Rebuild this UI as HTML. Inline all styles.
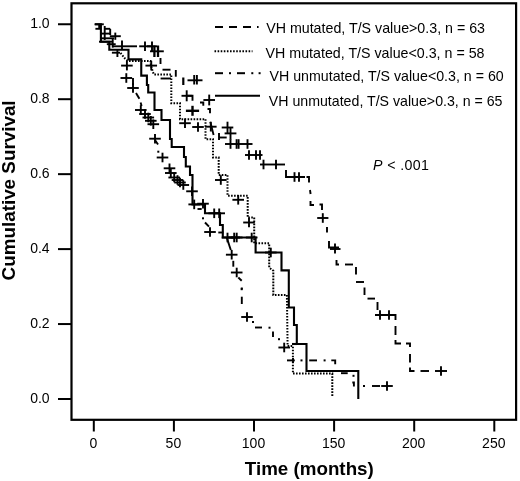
<!DOCTYPE html>
<html><head><meta charset="utf-8"><title>Cumulative Survival</title>
<style>
html,body{margin:0;padding:0;background:#fff;}
svg{display:block;font-family:"Liberation Sans",sans-serif;}
svg{will-change:transform;}
svg line, svg polyline, svg rect{stroke:#000;stroke-linecap:butt;}
</style></head>
<body>
<svg width="520" height="481" viewBox="0 0 520 481">
<rect x="0" y="0" width="520" height="481" fill="#fff" stroke="none" style="stroke:none"/>
<rect x="71.5" y="3.3" width="444.6" height="416.5" fill="none" stroke-width="2.2"/>
<line x1="58.00" y1="399.00" x2="71.50" y2="399.00" stroke-width="2.0" />
<text x="49.6" y="403.10" font-size="14" text-anchor="end" stroke="none" fill="#000">0.0</text>
<line x1="58.00" y1="324.05" x2="71.50" y2="324.05" stroke-width="2.0" />
<text x="49.6" y="328.15" font-size="14" text-anchor="end" stroke="none" fill="#000">0.2</text>
<line x1="58.00" y1="249.10" x2="71.50" y2="249.10" stroke-width="2.0" />
<text x="49.6" y="253.20" font-size="14" text-anchor="end" stroke="none" fill="#000">0.4</text>
<line x1="58.00" y1="174.15" x2="71.50" y2="174.15" stroke-width="2.0" />
<text x="49.6" y="178.25" font-size="14" text-anchor="end" stroke="none" fill="#000">0.6</text>
<line x1="58.00" y1="99.20" x2="71.50" y2="99.20" stroke-width="2.0" />
<text x="49.6" y="103.30" font-size="14" text-anchor="end" stroke="none" fill="#000">0.8</text>
<line x1="58.00" y1="24.25" x2="71.50" y2="24.25" stroke-width="2.0" />
<text x="49.6" y="28.35" font-size="14" text-anchor="end" stroke="none" fill="#000">1.0</text>
<line x1="93.80" y1="419.80" x2="93.80" y2="431.50" stroke-width="2.0" />
<text x="93.3" y="448.0" font-size="14" text-anchor="middle" stroke="none" fill="#000">0</text>
<line x1="173.90" y1="419.80" x2="173.90" y2="431.50" stroke-width="2.0" />
<text x="173.39999999999998" y="448.0" font-size="14" text-anchor="middle" stroke="none" fill="#000">50</text>
<line x1="254.00" y1="419.80" x2="254.00" y2="431.50" stroke-width="2.0" />
<text x="253.5" y="448.0" font-size="14" text-anchor="middle" stroke="none" fill="#000">100</text>
<line x1="334.10" y1="419.80" x2="334.10" y2="431.50" stroke-width="2.0" />
<text x="333.59999999999997" y="448.0" font-size="14" text-anchor="middle" stroke="none" fill="#000">150</text>
<line x1="414.20" y1="419.80" x2="414.20" y2="431.50" stroke-width="2.0" />
<text x="413.7" y="448.0" font-size="14" text-anchor="middle" stroke="none" fill="#000">200</text>
<line x1="494.30" y1="419.80" x2="494.30" y2="431.50" stroke-width="2.0" />
<text x="493.8" y="448.0" font-size="14" text-anchor="middle" stroke="none" fill="#000">250</text>
<text x="309.3" y="475.2" font-size="18.67" font-weight="bold" text-anchor="middle" stroke="none" fill="#000" textLength="129" lengthAdjust="spacingAndGlyphs">Time (months)</text>
<text transform="translate(15.4,190.4) rotate(-90)" font-size="19" font-weight="bold" text-anchor="middle" stroke="none" fill="#000" textLength="180" lengthAdjust="spacingAndGlyphs">Cumulative Survival</text>
<line x1="215.00" y1="27.00" x2="223.00" y2="27.00" stroke-width="2.0" />
<line x1="229.00" y1="27.00" x2="237.00" y2="27.00" stroke-width="2.0" />
<line x1="243.00" y1="27.00" x2="251.00" y2="27.00" stroke-width="2.0" />
<line x1="257.00" y1="27.00" x2="258.60" y2="27.00" stroke-width="2.0" />
<line x1="214.5" y1="51.2" x2="252.5" y2="51.2" stroke-width="2" stroke-dasharray="1.6 1.5"/>
<line x1="215.00" y1="73.20" x2="223.00" y2="73.20" stroke-width="2.0" />
<rect x="229.00" y="72.20" width="2.00" height="2.00" fill="#000" style="stroke:none"/>
<line x1="237.00" y1="73.20" x2="245.00" y2="73.20" stroke-width="2.0" />
<rect x="251.30" y="72.20" width="2.00" height="2.00" fill="#000" style="stroke:none"/>
<rect x="258.60" y="72.20" width="2.00" height="2.00" fill="#000" style="stroke:none"/>
<line x1="215.00" y1="95.80" x2="260.00" y2="95.80" stroke-width="2.0" />
<text x="266.2" y="33.3" font-size="14.2" stroke="none" fill="#000" textLength="218.8" lengthAdjust="spacingAndGlyphs">VH mutated, T/S value&gt;0.3, n = 63</text>
<text x="265.6" y="58.0" font-size="14.2" stroke="none" fill="#000" textLength="218.9" lengthAdjust="spacingAndGlyphs">VH mutated, T/S value&lt;0.3, n = 58</text>
<text x="269.5" y="80.8" font-size="14.2" stroke="none" fill="#000" textLength="234.2" lengthAdjust="spacingAndGlyphs">VH unmutated, T/S value&lt;0.3, n = 60</text>
<text x="268.8" y="106.2" font-size="14.2" stroke="none" fill="#000" textLength="233.7" lengthAdjust="spacingAndGlyphs">VH unmutated, T/S value&gt;0.3, n = 65</text>
<text x="373" y="169.8" font-size="14.2" stroke="none" fill="#000" textLength="55.9" lengthAdjust="spacing"><tspan font-style="italic">P</tspan> &lt; .001</text>
<polyline points="95.00,24.30 100.90,24.30 100.90,41.70 109.30,41.70 109.30,49.70 128.50,49.70 128.50,59.40 141.25,59.40 141.25,75.60 146.90,75.60 146.90,85.00 148.20,85.00 148.20,92.50 154.50,92.50 154.50,110.00 161.50,110.00 161.50,120.00 170.00,120.00 170.00,139.00 171.70,139.00 171.70,147.00 184.00,147.00 184.00,157.00 185.80,157.00 185.80,166.50 190.00,166.50 190.00,175.00 192.50,175.00 192.50,204.50 205.00,204.50 205.00,213.30 220.00,213.30 220.00,225.00 222.80,225.00 222.80,237.50 255.60,237.50 255.60,252.50 281.50,252.50 281.50,270.40 288.80,270.40 288.80,307.50 294.00,307.50 294.00,325.00 296.80,325.00 296.80,344.00 306.50,344.00 306.50,371.00 358.30,371.00 358.30,399.00" fill="none" stroke-width="2.1" stroke-linejoin="miter"/>
<line x1="292.00" y1="344.00" x2="297.00" y2="344.00" stroke-width="2.1" />
<line x1="186.20" y1="191.30" x2="197.80" y2="191.30" stroke-width="1.9" />
<line x1="192.00" y1="186.50" x2="192.00" y2="196.10" stroke-width="1.9" />
<line x1="188.40" y1="204.40" x2="200.00" y2="204.40" stroke-width="1.9" />
<line x1="194.20" y1="199.60" x2="194.20" y2="209.20" stroke-width="1.9" />
<line x1="197.20" y1="203.70" x2="208.80" y2="203.70" stroke-width="1.9" />
<line x1="203.00" y1="198.90" x2="203.00" y2="208.50" stroke-width="1.9" />
<line x1="208.40" y1="213.30" x2="220.00" y2="213.30" stroke-width="1.9" />
<line x1="214.20" y1="208.50" x2="214.20" y2="218.10" stroke-width="1.9" />
<line x1="213.40" y1="213.30" x2="225.00" y2="213.30" stroke-width="1.9" />
<line x1="219.20" y1="208.50" x2="219.20" y2="218.10" stroke-width="1.9" />
<line x1="221.70" y1="237.50" x2="233.30" y2="237.50" stroke-width="1.9" />
<line x1="227.50" y1="232.70" x2="227.50" y2="242.30" stroke-width="1.9" />
<line x1="228.40" y1="237.50" x2="240.00" y2="237.50" stroke-width="1.9" />
<line x1="234.20" y1="232.70" x2="234.20" y2="242.30" stroke-width="1.9" />
<line x1="230.90" y1="237.50" x2="242.50" y2="237.50" stroke-width="1.9" />
<line x1="236.70" y1="232.70" x2="236.70" y2="242.30" stroke-width="1.9" />
<line x1="245.90" y1="237.50" x2="257.50" y2="237.50" stroke-width="1.9" />
<line x1="251.70" y1="232.70" x2="251.70" y2="242.30" stroke-width="1.9" />
<line x1="265.00" y1="252.50" x2="276.60" y2="252.50" stroke-width="1.9" />
<line x1="270.80" y1="247.70" x2="270.80" y2="257.30" stroke-width="1.9" />
<line x1="94.50" y1="24.30" x2="103.80" y2="24.30" stroke-width="1.9" />
<line x1="95.40" y1="28.80" x2="100.90" y2="28.80" stroke-width="1.9" />
<line x1="99.20" y1="24.30" x2="99.20" y2="28.80" stroke-width="1.9" />
<line x1="104.70" y1="26.00" x2="104.70" y2="40.00" stroke-width="1.9" />
<line x1="104.70" y1="28.80" x2="110.20" y2="28.80" stroke-width="1.9" />
<line x1="110.20" y1="28.80" x2="110.20" y2="35.00" stroke-width="1.9" />
<line x1="100.90" y1="33.60" x2="110.20" y2="33.60" stroke-width="1.9" />
<line x1="109.80" y1="36.20" x2="120.80" y2="36.20" stroke-width="1.9" />
<line x1="115.30" y1="32.60" x2="115.30" y2="39.80" stroke-width="1.9" />
<line x1="100.90" y1="38.30" x2="114.00" y2="38.30" stroke-width="1.9" />
<line x1="99.00" y1="41.70" x2="112.30" y2="41.70" stroke-width="1.9" />
<line x1="112.70" y1="38.00" x2="112.70" y2="47.60" stroke-width="1.9" />
<line x1="106.80" y1="44.20" x2="115.70" y2="44.20" stroke-width="1.9" />
<line x1="112.00" y1="46.30" x2="137.00" y2="46.30" stroke-width="1.9" />
<line x1="122.00" y1="40.40" x2="122.00" y2="49.30" stroke-width="1.9" />
<line x1="111.90" y1="52.70" x2="120.00" y2="52.70" stroke-width="1.9" />
<line x1="117.40" y1="49.70" x2="117.40" y2="57.00" stroke-width="1.9" />
<line x1="139.20" y1="46.30" x2="150.80" y2="46.30" stroke-width="1.9" />
<line x1="145.00" y1="41.50" x2="145.00" y2="51.10" stroke-width="1.9" />
<line x1="147.00" y1="46.30" x2="157.00" y2="46.30" stroke-width="1.9" />
<line x1="152.00" y1="41.60" x2="152.00" y2="51.00" stroke-width="1.9" />
<line x1="150.00" y1="51.30" x2="163.80" y2="51.30" stroke-width="1.9" />
<line x1="154.40" y1="45.50" x2="154.40" y2="57.00" stroke-width="2.3" />
<line x1="158.00" y1="45.50" x2="158.00" y2="57.00" stroke-width="2.3" />
<line x1="160.50" y1="58.00" x2="160.50" y2="64.00" stroke-width="1.9" />
<line x1="162.50" y1="69.70" x2="170.50" y2="69.70" stroke-width="1.9" />
<line x1="175.80" y1="70.00" x2="175.80" y2="76.70" stroke-width="1.9" />
<line x1="160.60" y1="78.50" x2="171.00" y2="78.50" stroke-width="1.9" />
<line x1="183.30" y1="77.50" x2="183.30" y2="85.00" stroke-width="2.2" />
<line x1="187.50" y1="80.30" x2="202.50" y2="80.30" stroke-width="1.9" />
<line x1="194.20" y1="75.00" x2="194.20" y2="84.50" stroke-width="1.9" />
<line x1="196.90" y1="75.00" x2="196.90" y2="84.50" stroke-width="1.9" />
<line x1="181.50" y1="95.80" x2="191.90" y2="95.80" stroke-width="1.9" />
<line x1="186.70" y1="90.30" x2="186.70" y2="101.30" stroke-width="1.9" />
<polyline points="186.00,95.80 192.50,95.80 192.50,100.80" fill="none" stroke-width="1.9" />
<polyline points="200.00,102.50 203.30,102.50 203.30,105.80" fill="none" stroke-width="1.9" />
<line x1="203.40" y1="100.00" x2="215.00" y2="100.00" stroke-width="1.9" />
<line x1="209.20" y1="94.60" x2="209.20" y2="105.40" stroke-width="1.9" />
<polyline points="207.50,109.00 210.00,109.00 210.00,113.30" fill="none" stroke-width="1.9" />
<line x1="185.90" y1="110.80" x2="199.10" y2="110.80" stroke-width="2.4" />
<line x1="192.50" y1="105.80" x2="192.50" y2="115.80" stroke-width="2.4" />
<line x1="210.30" y1="121.70" x2="213.60" y2="135.00" stroke-width="1.9" />
<line x1="205.00" y1="126.70" x2="216.60" y2="126.70" stroke-width="1.9" />
<line x1="210.80" y1="121.90" x2="210.80" y2="131.50" stroke-width="1.9" />
<line x1="221.70" y1="127.50" x2="233.30" y2="127.50" stroke-width="1.9" />
<line x1="227.50" y1="121.70" x2="227.50" y2="133.30" stroke-width="1.9" />
<line x1="224.60" y1="133.40" x2="236.40" y2="133.40" stroke-width="1.9" />
<line x1="230.50" y1="127.20" x2="230.50" y2="139.60" stroke-width="1.9" />
<polyline points="219.00,133.00 219.00,140.00" fill="none" stroke-width="1.9" />
<line x1="219.00" y1="137.50" x2="226.70" y2="137.50" stroke-width="1.9" />
<line x1="225.00" y1="144.00" x2="252.50" y2="144.00" stroke-width="1.9" />
<line x1="230.50" y1="139.20" x2="230.50" y2="148.80" stroke-width="1.9" />
<line x1="236.60" y1="139.20" x2="236.60" y2="148.80" stroke-width="1.9" />
<line x1="238.60" y1="139.20" x2="238.60" y2="148.80" stroke-width="1.9" />
<line x1="247.50" y1="139.20" x2="247.50" y2="148.80" stroke-width="1.9" />
<line x1="245.00" y1="155.00" x2="262.50" y2="155.00" stroke-width="1.9" />
<line x1="249.00" y1="150.20" x2="249.00" y2="159.80" stroke-width="1.9" />
<line x1="256.00" y1="150.20" x2="256.00" y2="159.80" stroke-width="1.9" />
<line x1="260.00" y1="150.20" x2="260.00" y2="159.80" stroke-width="1.9" />
<line x1="260.00" y1="164.50" x2="285.00" y2="164.50" stroke-width="1.9" />
<line x1="263.50" y1="159.70" x2="263.50" y2="169.30" stroke-width="1.9" />
<line x1="276.00" y1="159.70" x2="276.00" y2="169.30" stroke-width="1.9" />
<polyline points="286.00,170.00 286.00,177.00 305.00,177.00" fill="none" stroke-width="1.9" />
<line x1="294.50" y1="172.20" x2="294.50" y2="181.80" stroke-width="1.9" />
<line x1="299.00" y1="172.20" x2="299.00" y2="181.80" stroke-width="1.9" />
<polyline points="306.50,177.00 309.00,177.00 309.00,182.50" fill="none" stroke-width="1.9" />
<line x1="310.00" y1="190.00" x2="310.60" y2="194.00" stroke-width="1.9" />
<polyline points="310.50,201.00 310.50,205.00 314.00,205.00" fill="none" stroke-width="1.9" />
<polyline points="319.50,204.50 322.00,204.50 322.00,210.00" fill="none" stroke-width="1.9" />
<line x1="317.20" y1="218.00" x2="328.40" y2="218.00" stroke-width="1.9" />
<line x1="322.80" y1="213.20" x2="322.80" y2="222.80" stroke-width="1.9" />
<line x1="327.00" y1="227.00" x2="327.00" y2="232.50" stroke-width="1.9" />
<polyline points="329.00,241.00 329.00,247.50 339.00,247.50" fill="none" stroke-width="1.9" />
<line x1="335.00" y1="243.50" x2="335.00" y2="253.50" stroke-width="1.9" />
<line x1="330.00" y1="249.00" x2="340.50" y2="249.00" stroke-width="1.9" />
<polyline points="336.50,260.00 336.50,264.50 339.00,264.50" fill="none" stroke-width="1.9" />
<line x1="345.00" y1="264.50" x2="353.00" y2="264.50" stroke-width="1.9" />
<line x1="356.00" y1="267.00" x2="356.00" y2="274.50" stroke-width="1.9" />
<line x1="356.00" y1="282.00" x2="364.00" y2="282.00" stroke-width="1.9" />
<line x1="364.50" y1="287.50" x2="364.50" y2="295.00" stroke-width="1.9" />
<line x1="367.50" y1="298.60" x2="375.00" y2="298.60" stroke-width="1.9" />
<line x1="377.50" y1="302.00" x2="377.50" y2="310.00" stroke-width="1.9" />
<polyline points="375.00,315.00 395.50,315.00 395.50,320.00" fill="none" stroke-width="1.9" />
<line x1="380.00" y1="310.20" x2="380.00" y2="319.80" stroke-width="1.9" />
<line x1="389.00" y1="310.20" x2="389.00" y2="319.80" stroke-width="1.9" />
<line x1="395.50" y1="326.00" x2="395.50" y2="335.00" stroke-width="1.9" />
<polyline points="395.50,340.00 395.50,343.50 401.00,343.50" fill="none" stroke-width="1.9" />
<polyline points="406.00,343.50 410.00,343.50 410.00,347.00" fill="none" stroke-width="1.9" />
<line x1="410.00" y1="354.00" x2="410.00" y2="362.50" stroke-width="1.9" />
<polyline points="410.00,367.50 410.00,371.00 414.50,371.00" fill="none" stroke-width="1.9" />
<line x1="420.50" y1="371.00" x2="429.00" y2="371.00" stroke-width="1.9" />
<line x1="435.00" y1="371.00" x2="447.00" y2="371.00" stroke-width="1.9" />
<line x1="441.00" y1="366.20" x2="441.00" y2="375.80" stroke-width="1.9" />
<polyline points="120.50,53.00 125.00,58.50 128.00,61.00 150.50,61.00 151.00,66.00 153.75,74.40 171.30,74.40 171.30,103.30 180.00,103.30 180.00,119.20 205.50,119.20 205.50,139.20 213.00,139.20 213.00,157.50 218.70,157.50 218.70,175.00 227.50,175.00 227.50,195.70 247.70,195.70 247.70,217.50 254.20,217.50 254.20,243.30 269.20,243.30 269.20,267.50 273.30,270.80 273.30,295.00 286.90,295.00 287.60,346.00 292.90,346.00 292.90,373.60 332.30,373.60 332.30,397.00" fill="none" stroke-width="2.0" stroke-dasharray="1.6 1.4"/>
<line x1="145.45" y1="65.60" x2="157.05" y2="65.60" stroke-width="1.9" />
<line x1="151.25" y1="60.80" x2="151.25" y2="70.40" stroke-width="1.9" />
<line x1="179.20" y1="123.20" x2="190.80" y2="123.20" stroke-width="1.9" />
<line x1="185.00" y1="118.40" x2="185.00" y2="128.00" stroke-width="1.9" />
<line x1="192.20" y1="127.00" x2="203.80" y2="127.00" stroke-width="1.9" />
<line x1="198.00" y1="122.20" x2="198.00" y2="131.80" stroke-width="1.9" />
<line x1="215.00" y1="180.00" x2="226.60" y2="180.00" stroke-width="1.9" />
<line x1="220.80" y1="175.20" x2="220.80" y2="184.80" stroke-width="1.9" />
<line x1="232.40" y1="199.80" x2="244.00" y2="199.80" stroke-width="1.9" />
<line x1="238.20" y1="195.00" x2="238.20" y2="204.60" stroke-width="1.9" />
<line x1="243.20" y1="222.50" x2="254.80" y2="222.50" stroke-width="1.9" />
<line x1="249.00" y1="217.70" x2="249.00" y2="227.30" stroke-width="1.9" />
<line x1="121.10" y1="65.60" x2="132.70" y2="65.60" stroke-width="1.9" />
<line x1="126.90" y1="60.80" x2="126.90" y2="70.40" stroke-width="1.9" />
<line x1="120.50" y1="78.00" x2="132.10" y2="78.00" stroke-width="1.9" />
<line x1="126.30" y1="73.20" x2="126.30" y2="82.80" stroke-width="1.9" />
<line x1="127.20" y1="88.00" x2="138.80" y2="88.00" stroke-width="1.9" />
<line x1="133.00" y1="83.20" x2="133.00" y2="92.80" stroke-width="1.9" />
<line x1="135.00" y1="110.00" x2="146.60" y2="110.00" stroke-width="1.9" />
<line x1="140.80" y1="105.20" x2="140.80" y2="114.80" stroke-width="1.9" />
<line x1="139.20" y1="114.00" x2="150.80" y2="114.00" stroke-width="1.9" />
<line x1="145.00" y1="109.20" x2="145.00" y2="118.80" stroke-width="1.9" />
<line x1="142.50" y1="117.50" x2="154.10" y2="117.50" stroke-width="1.9" />
<line x1="148.30" y1="112.70" x2="148.30" y2="122.30" stroke-width="1.9" />
<line x1="145.00" y1="120.80" x2="156.60" y2="120.80" stroke-width="1.9" />
<line x1="150.80" y1="116.00" x2="150.80" y2="125.60" stroke-width="1.9" />
<line x1="147.50" y1="124.20" x2="159.10" y2="124.20" stroke-width="1.9" />
<line x1="153.30" y1="119.40" x2="153.30" y2="129.00" stroke-width="1.9" />
<line x1="149.20" y1="138.70" x2="160.80" y2="138.70" stroke-width="1.9" />
<line x1="155.00" y1="133.90" x2="155.00" y2="143.50" stroke-width="1.9" />
<line x1="156.70" y1="157.50" x2="168.30" y2="157.50" stroke-width="1.9" />
<line x1="162.50" y1="152.70" x2="162.50" y2="162.30" stroke-width="1.9" />
<line x1="163.70" y1="168.30" x2="175.30" y2="168.30" stroke-width="1.9" />
<line x1="169.50" y1="163.50" x2="169.50" y2="173.10" stroke-width="1.9" />
<line x1="165.00" y1="173.00" x2="176.60" y2="173.00" stroke-width="1.9" />
<line x1="170.80" y1="168.20" x2="170.80" y2="177.80" stroke-width="1.9" />
<line x1="168.40" y1="177.50" x2="180.00" y2="177.50" stroke-width="1.9" />
<line x1="174.20" y1="172.70" x2="174.20" y2="182.30" stroke-width="1.9" />
<line x1="171.70" y1="180.00" x2="183.30" y2="180.00" stroke-width="1.9" />
<line x1="177.50" y1="175.20" x2="177.50" y2="184.80" stroke-width="1.9" />
<line x1="174.20" y1="182.50" x2="185.80" y2="182.50" stroke-width="1.9" />
<line x1="180.00" y1="177.70" x2="180.00" y2="187.30" stroke-width="1.9" />
<line x1="177.50" y1="185.00" x2="189.10" y2="185.00" stroke-width="1.9" />
<line x1="183.30" y1="180.20" x2="183.30" y2="189.80" stroke-width="1.9" />
<line x1="204.20" y1="232.00" x2="215.80" y2="232.00" stroke-width="1.9" />
<line x1="210.00" y1="227.20" x2="210.00" y2="236.80" stroke-width="1.9" />
<line x1="225.90" y1="254.70" x2="237.50" y2="254.70" stroke-width="1.9" />
<line x1="231.70" y1="249.90" x2="231.70" y2="259.50" stroke-width="1.9" />
<line x1="230.90" y1="272.50" x2="242.50" y2="272.50" stroke-width="1.9" />
<line x1="236.70" y1="267.70" x2="236.70" y2="277.30" stroke-width="1.9" />
<line x1="241.20" y1="317.00" x2="252.80" y2="317.00" stroke-width="1.9" />
<line x1="247.00" y1="312.20" x2="247.00" y2="321.80" stroke-width="1.9" />
<line x1="278.40" y1="347.50" x2="290.00" y2="347.50" stroke-width="1.9" />
<line x1="284.20" y1="342.70" x2="284.20" y2="352.30" stroke-width="1.9" />
<line x1="133.00" y1="78.00" x2="133.00" y2="85.00" stroke-width="1.9" />
<line x1="136.00" y1="93.00" x2="139.40" y2="98.75" stroke-width="1.9" />
<line x1="140.60" y1="102.50" x2="141.60" y2="106.00" stroke-width="1.9" />
<line x1="155.00" y1="140.00" x2="158.00" y2="144.50" stroke-width="1.9" />
<rect x="157.30" y="150.70" width="2.00" height="2.00" fill="#000" style="stroke:none"/>
<line x1="197.50" y1="209.00" x2="201.70" y2="209.00" stroke-width="1.9" />
<rect x="202.00" y="217.30" width="2.00" height="2.00" fill="#000" style="stroke:none"/>
<line x1="205.00" y1="222.50" x2="209.00" y2="226.70" stroke-width="1.9" />
<line x1="218.30" y1="232.50" x2="223.30" y2="232.50" stroke-width="1.9" />
<line x1="226.70" y1="237.50" x2="230.80" y2="250.00" stroke-width="1.9" />
<line x1="233.30" y1="260.80" x2="233.30" y2="266.70" stroke-width="1.9" />
<line x1="238.30" y1="277.50" x2="241.70" y2="280.80" stroke-width="1.9" />
<rect x="240.70" y="288.20" width="2.00" height="2.00" fill="#000" style="stroke:none"/>
<line x1="241.80" y1="296.70" x2="241.80" y2="304.00" stroke-width="1.9" />
<rect x="240.80" y="287.50" width="2.00" height="2.00" fill="#000" style="stroke:none"/>
<rect x="252.00" y="321.00" width="2.00" height="2.00" fill="#000" style="stroke:none"/>
<line x1="255.00" y1="327.50" x2="262.00" y2="327.50" stroke-width="1.9" />
<rect x="268.50" y="326.70" width="2.00" height="2.00" fill="#000" style="stroke:none"/>
<line x1="273.00" y1="331.50" x2="273.00" y2="337.00" stroke-width="1.9" />
<rect x="278.00" y="338.20" width="2.00" height="2.00" fill="#000" style="stroke:none"/>
<line x1="287.00" y1="360.40" x2="294.80" y2="360.40" stroke-width="1.9" />
<line x1="293.00" y1="358.00" x2="293.00" y2="363.00" stroke-width="1.9" />
<rect x="300.50" y="359.40" width="2.00" height="2.00" fill="#000" style="stroke:none"/>
<line x1="309.20" y1="360.40" x2="317.00" y2="360.40" stroke-width="1.9" />
<rect x="323.60" y="359.40" width="2.00" height="2.00" fill="#000" style="stroke:none"/>
<polyline points="331.30,360.40 335.20,360.40 335.20,364.20" fill="none" stroke-width="1.9" />
<line x1="341.00" y1="373.20" x2="347.70" y2="373.20" stroke-width="1.9" />
<rect x="352.50" y="374.80" width="2.00" height="2.00" fill="#000" style="stroke:none"/>
<polyline points="352.30,382.50 353.90,382.50 353.90,386.50" fill="none" stroke-width="1.9" />
<rect x="363.00" y="385.00" width="2.00" height="2.00" fill="#000" style="stroke:none"/>
<line x1="372.00" y1="386.00" x2="380.00" y2="386.00" stroke-width="1.9" />
<line x1="381.20" y1="386.00" x2="392.80" y2="386.00" stroke-width="1.9" />
<line x1="387.00" y1="381.20" x2="387.00" y2="390.80" stroke-width="1.9" />
</svg>
</body></html>
